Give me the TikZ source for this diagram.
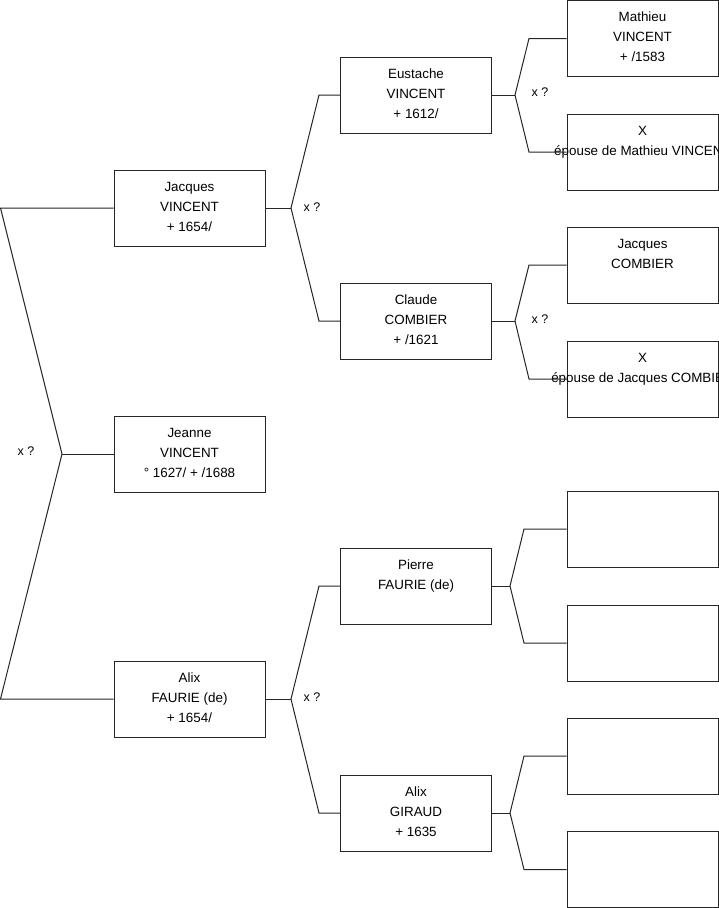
\documentclass[tikz,border=0pt]{standalone}
\usepackage{fontspec}
\setmainfont{Liberation Sans}
\begin{document}
\begin{tikzpicture}[x=1pt,y=-1pt,
  box/.style={draw=black!85,line width=1pt,minimum width=151pt,minimum height=76pt,inner sep=0pt},
  txt/.style={align=center,inner sep=0pt,anchor=north,font=\fontsize{13.4}{20}\selectfont},
  lbl/.style={inner sep=0pt,font=\fontsize{12.5}{15}\selectfont},
  wire/.style={line width=1pt,black!85}]
\clip (0,0) rectangle (719,908);
\newcommand{\person}[4]{%
  \node[box] (#1) at (#2,#3) {};
  \node[txt] (#1-t) at ([yshift=-7.5pt]#1.north) {\strut #4};
}
% level 1
\person{jv}{189.5}{208}{Jacques\\VINCENT\\+ 1654/}
\person{jn}{189.5}{454}{Jeanne\\VINCENT\\° 1627/ + /1688}
\person{af}{189.5}{699}{Alix\\FAURIE (de)\\+ 1654/}
% level 2
\person{ev}{416}{95}{Eustache\\VINCENT\\+ 1612/}
\person{cc}{416}{321}{Claude\\COMBIER\\+ /1621}
\person{pf}{416}{586}{Pierre\\FAURIE (de)}
\person{ag}{416}{813}{Alix\\GIRAUD\\+ 1635}
% level 3
\person{mv}{642.5}{38.5}{Mathieu\\VINCENT\\+ /1583}
\person{x1}{642.5}{152}{X\\épouse de Mathieu VINCENT}
\person{jc}{642.5}{265}{Jacques\\COMBIER}
\person{x2}{642.5}{379}{X\\épouse de Jacques COMBIER}
\person{b5}{642.5}{529}{}
\person{b6}{642.5}{643}{}
\person{b7}{642.5}{756}{}
\person{b8}{642.5}{869.5}{}
% root fork
\coordinate (r1) at (0.5,208);
\coordinate (r2) at (0.5,699);
\coordinate (f0) at (62,454);
\draw[wire] (jv.west) -- (r1) -- (f0) -- (r2) -- (af.west);
\draw[wire] (f0) -- (jn.west);
\node[lbl] (x0) at (26,451) {x ?};
% Jacques VINCENT fork
\coordinate (fj) at (291,208);
\coordinate (fj1) at (319,95);
\coordinate (fj2) at (319,321);
\draw[wire] (jv.east) -- (fj);
\draw[wire] (ev.west) -- (fj1) -- (fj) -- (fj2) -- (cc.west);
\node[lbl] (xj) at (312,207) {x ?};
% Alix FAURIE fork
\coordinate (fa) at (291,699);
\coordinate (fa1) at (319,586);
\coordinate (fa2) at (319,813);
\draw[wire] (af.east) -- (fa);
\draw[wire] (pf.west) -- (fa1) -- (fa) -- (fa2) -- (ag.west);
\node[lbl] (xa) at (312,697) {x ?};
% Eustache fork
\coordinate (fe) at (515,95);
\coordinate (fe1) at (529,38.5);
\coordinate (fe2) at (529,152);
\draw[wire] (ev.east) -- (fe);
\draw[wire] (mv.west) -- (fe1) -- (fe) -- (fe2) -- (x1.west);
\node[lbl] (xe) at (540,92) {x ?};
% Claude fork
\coordinate (fc) at (515,321);
\coordinate (fc1) at (529,265);
\coordinate (fc2) at (529,379);
\draw[wire] (cc.east) -- (fc);
\draw[wire] (jc.west) -- (fc1) -- (fc) -- (fc2) -- (x2.west);
\node[lbl] (xc) at (540,319) {x ?};
% Pierre fork
\coordinate (fp) at (510,586);
\coordinate (fp1) at (524,529);
\coordinate (fp2) at (524,643);
\draw[wire] (pf.east) -- (fp);
\draw[wire] (b5.west) -- (fp1) -- (fp) -- (fp2) -- (b6.west);
% Alix GIRAUD fork
\coordinate (fg) at (510,813);
\coordinate (fg1) at (524,756);
\coordinate (fg2) at (524,869.5);
\draw[wire] (ag.east) -- (fg);
\draw[wire] (b7.west) -- (fg1) -- (fg) -- (fg2) -- (b8.west);
\end{tikzpicture}
\end{document}
